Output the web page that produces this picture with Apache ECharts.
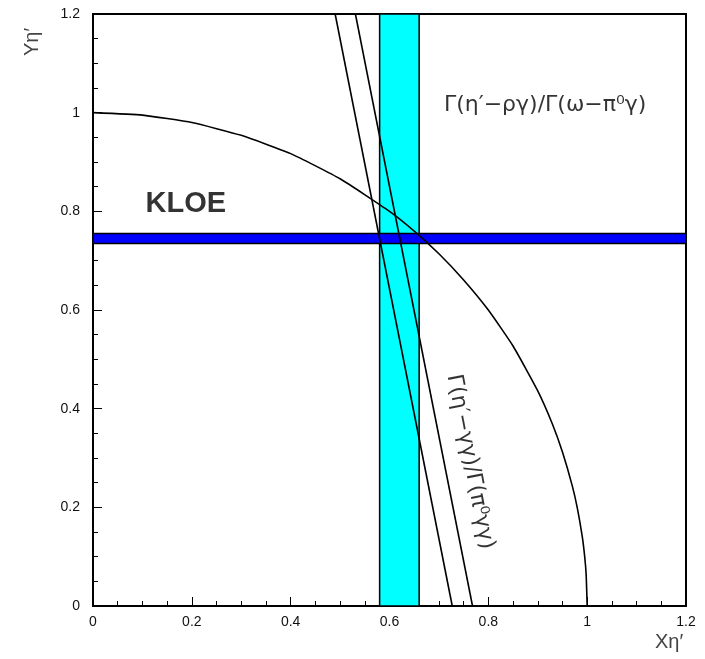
<!DOCTYPE html>
<html>
<head>
<meta charset="utf-8">
<script src="https://cdn.jsdelivr.net/npm/echarts@6/dist/echarts.min.js"></script>
<style>
  html, body { margin: 0; padding: 0; background: #fff; }
  #chart { width: 705px; height: 659px; }
</style>
</head>
<body>
<div id="chart"></div>
<script>
// quarter circle (X, Y)
var arcX = [0, 0.1, 0.2, 0.3, 0.4, 0.5, 0.6, 0.65, 0.7, 0.75, 0.8, 0.85, 0.9, 0.93, 0.95, 0.97, 0.98, 0.99, 0.995, 0.998, 1.0];
var arcY = [1, 0.995, 0.98, 0.954, 0.917, 0.866, 0.8, 0.76, 0.714, 0.661, 0.6, 0.527, 0.436, 0.368, 0.312, 0.243, 0.199, 0.141, 0.1, 0.063, 0];

// two straight constraint lines, endpoints at Y=1.2 and Y=0
var lineTopX = [0.49, 0.531];
var lineBotX = [0.727, 0.768];
var lineY = [1.2, 0];

// bands
var vBand = [0.58, 0.66];     // cyan vertical band in X
var hBand = [0.735, 0.755];   // blue KLOE band in Y

var axisMin = 0, axisMax = 1.2, axisStep = 0.2;

var myChart = echarts.init(document.getElementById('chart'));

var arcData = arcX.map(function (x, i) { return [x, arcY[i]]; });
var lineSeries = lineTopX.map(function (x, i) {
    return {
        type: 'line',
        z: 4,
        symbol: 'none',
        silent: true,
        lineStyle: { color: '#000', width: 1.6 },
        data: [[x, lineY[0]], [lineBotX[i], lineY[1]]]
    };
});

function axisCfg() {
    return {
        type: 'value',
        min: axisMin,
        max: axisMax,
        interval: axisStep,
        axisLine: { show: true, onZero: false, lineStyle: { color: '#000', width: 2 } },
        axisTick: { show: true, inside: true, length: 9, lineStyle: { color: '#000', width: 1 } },
        minorTick: { show: true, splitNumber: 4, length: 5, lineStyle: { color: '#000', width: 1 } },
        splitLine: { show: false },
        axisLabel: { color: '#111', fontSize: 14, fontFamily: 'Liberation Sans, Arial, sans-serif' }
    };
}

var xAxis = axisCfg();
xAxis.axisLabel.margin = 9;
var yAxis = axisCfg();
yAxis.axisLabel.margin = 13;

var option = {
    animation: false,
    grid: {
        left: 93, right: 19, top: 14, bottom: 53,
        show: true, borderColor: '#000', borderWidth: 2, backgroundColor: 'transparent'
    },
    xAxis: xAxis,
    yAxis: yAxis,
    graphic: [
        {
            type: 'text', left: 655, top: 632,
            style: { text: "Xη′", fill: '#444', font: '20px "Liberation Sans", sans-serif' }
        },
        {
            type: 'text', x: 22, y: 56, rotation: Math.PI / 2,
            style: { text: "Yη′", fill: '#444', font: '20px "Liberation Sans", sans-serif' }
        }
    ],
    series: [
        {
            type: 'line',
            z: 1,
            data: [],
            silent: true,
            markArea: {
                silent: true,
                data: [
                    [
                        { xAxis: vBand[0], yAxis: axisMin, itemStyle: { color: '#00ffff', borderColor: '#000', borderWidth: 1.5 } },
                        { xAxis: vBand[1], yAxis: axisMax }
                    ],
                    [
                        { xAxis: axisMin, yAxis: hBand[0], itemStyle: { color: '#0000ff', borderColor: '#000', borderWidth: 1.5 } },
                        { xAxis: axisMax, yAxis: hBand[1] }
                    ]
                ]
            }
        },
        {
            type: 'line',
            z: 4,
            symbol: 'none',
            silent: true,
            smooth: 0.15,
            lineStyle: { color: '#000', width: 1.6 },
            data: arcData
        }
    ].concat(lineSeries).concat([
        {
            type: 'scatter',
            z: 5,
            symbolSize: 0,
            silent: true,
            data: [
                {
                    value: [0.188, 0.815],
                    label: {
                        show: true, position: 'inside', formatter: 'KLOE',
                        color: '#000', textBorderWidth: 0, fontSize: 29, fontWeight: 'bold',
                        fontFamily: 'Liberation Sans, Arial, sans-serif'
                    }
                },
                {
                    value: [0.915, 1.014],
                    label: {
                        show: true, position: 'inside', formatter: 'Γ(η′−ργ)/Γ(ω−π⁰γ)',
                        color: '#000', fontSize: 22,
                        fontFamily: 'DejaVu Sans, sans-serif'
                    }
                },
                {
                    value: [0.763, 0.292],
                    label: {
                        show: true, position: 'inside', formatter: 'Γ(η′−γγ)/Γ(π⁰γγ)',
                        rotate: -79,
                        color: '#000', fontSize: 22,
                        fontFamily: 'DejaVu Sans, sans-serif'
                    }
                }
            ]
        }
    ])
};

myChart.setOption(option);
</script>
</body>
</html>
